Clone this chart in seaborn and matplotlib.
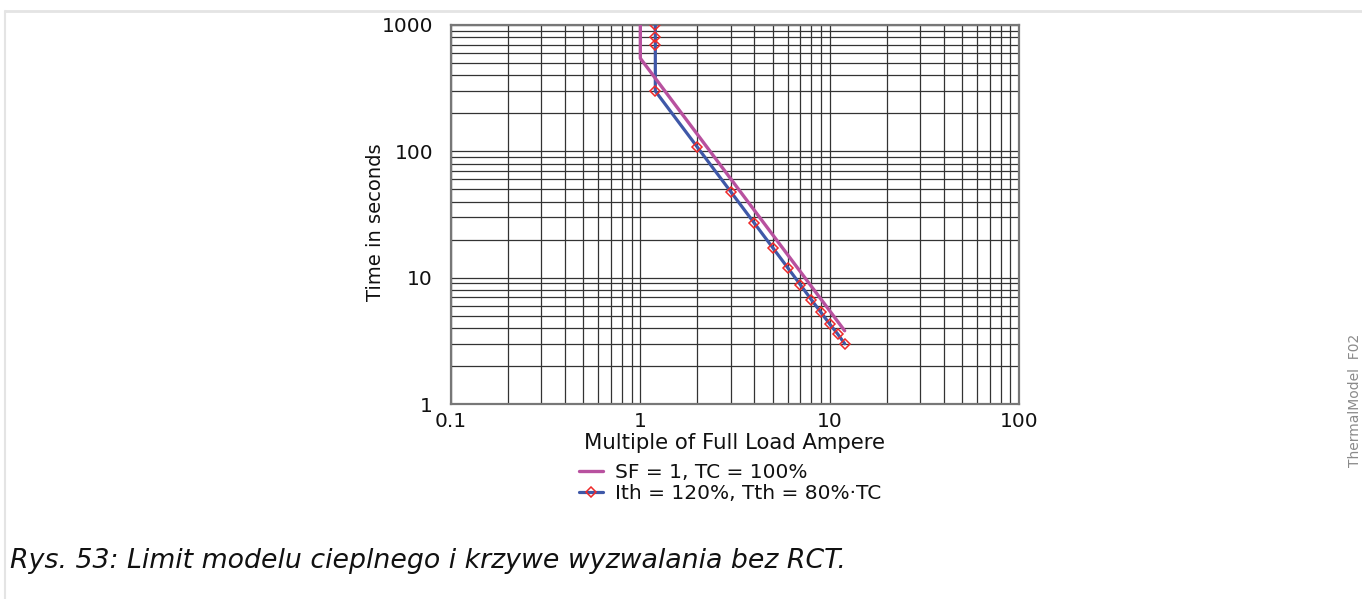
import matplotlib
matplotlib.use("Agg")
import matplotlib.pyplot as plt
import matplotlib.lines as mlines
from matplotlib.ticker import FixedLocator, FixedFormatter, NullFormatter
import pandas as pd
import seaborn as sns

# Trip characteristic data (current as multiple of FLA, time in seconds)
sf_current = [1.0, 1.0, 12.0]
sf_time = [1000, 545, 3.8]

ith_current = [1.2, 1.2, 1.2, 1.2, 2, 3, 4, 5, 6, 7, 8, 9, 10, 11, 12]
ith_time = [1000, 800, 700, 300, 108, 48, 27, 17.3, 12, 8.8, 6.7, 5.3, 4.3, 3.6, 3.0]

series_labels = ["SF = 1, TC = 100%", "Ith = 120%, Tth = 80%·TC"]

x_ticks = [0.1, 1, 10, 100]
x_tick_labels = ["0.1", "1", "10", "100"]
y_ticks = [1, 10, 100, 1000]
y_tick_labels = ["1", "10", "100", "1000"]

x_title = "Multiple of Full Load Ampere"
y_title = "Time in seconds"
caption = "Rys. 53: Limit modelu cieplnego i krzywe wyzwalania bez RCT."
side_tag = "ThermalModel  F02"

PINK = "#b8519f"
BLUE = "#3f58a8"
RED = "#ee2a2a"
TEXT = "#111111"

sns.set_theme(style="white")
plt.rcParams["font.family"] = ["DejaVu Sans"]
plt.rcParams["text.color"] = TEXT

W, H = 1362, 599
fig = plt.figure(figsize=(W / 100, H / 100), dpi=100)
fig.patch.set_facecolor("white")

# page frame lines
fig.add_artist(mlines.Line2D([5 / W, 1], [1 - 11 / H, 1 - 11 / H], color="#e4e4e4", lw=2))
fig.add_artist(mlines.Line2D([5 / W, 5 / W], [0, 1 - 11 / H], color="#e4e4e4", lw=1.5))

ax = fig.add_axes([451 / W, 1 - 404 / H, (1019 - 451) / W, (404 - 25) / H])
ax.set_facecolor("white")

df_sf = pd.DataFrame({"I": sf_current, "t": sf_time})
df_ith = pd.DataFrame({"I": ith_current, "t": ith_time})

sns.lineplot(data=df_ith, x="I", y="t", sort=False, estimator=None, ax=ax,
             color=BLUE, lw=2.3, marker="D", markersize=5.5,
             markerfacecolor="none", markeredgecolor=RED, markeredgewidth=1.1,
             label=series_labels[1], zorder=3)
sns.lineplot(data=df_sf, x="I", y="t", sort=False, estimator=None, ax=ax,
             color=PINK, lw=2.4, label=series_labels[0], zorder=4)

ax.set_xscale("log")
ax.set_yscale("log")
ax.set_xlim(0.1, 100)
ax.set_ylim(1, 1000)

minor_x = [m * d for d in (0.1, 1, 10) for m in range(2, 10)]
minor_y = [m * d for d in (1, 10, 100) for m in range(2, 10)]
ax.xaxis.set_major_locator(FixedLocator(x_ticks))
ax.xaxis.set_major_formatter(FixedFormatter(x_tick_labels))
ax.xaxis.set_minor_locator(FixedLocator(minor_x))
ax.xaxis.set_minor_formatter(NullFormatter())
ax.yaxis.set_major_locator(FixedLocator(y_ticks))
ax.yaxis.set_major_formatter(FixedFormatter(y_tick_labels))
ax.yaxis.set_minor_locator(FixedLocator(minor_y))
ax.yaxis.set_minor_formatter(NullFormatter())

ax.grid(which="both", color="#333333", lw=0.9)
ax.set_axisbelow(True)
for s in ax.spines.values():
    s.set_color("#777777")
    s.set_linewidth(1.6)

ax.tick_params(which="major", length=4, width=1, color="#666666", direction="out",
               labelcolor=TEXT)
ax.tick_params(axis="y", which="major", labelsize=14.5, pad=9)
ax.tick_params(axis="x", which="major", labelsize=14.5, pad=2)
ax.tick_params(which="minor", length=0)

ax.set_xlabel(x_title, fontsize=15.3, color=TEXT, labelpad=1)
ax.set_ylabel(y_title, fontsize=14, color=TEXT)
ax.yaxis.set_label_coords((385 - 451) / (1019 - 451), (404 - 222) / (404 - 25))

handles, labels = ax.get_legend_handles_labels()
order = [labels.index(series_labels[0]), labels.index(series_labels[1])]
ax.get_legend().remove()
fig.legend([handles[i] for i in order], [labels[i] for i in order],
           loc="upper left", bbox_to_anchor=(579 / W, 1 - 463 / H),
           frameon=False, fontsize=14.5, handlelength=1.2, handletextpad=0.6,
           labelspacing=0.09, borderpad=0, borderaxespad=0, numpoints=1,
           labelcolor=TEXT)

fig.text(10 / W, 1 - 561 / H, caption, fontsize=19.3, style="italic",
         color=TEXT, va="center", ha="left")
fig.text(1355 / W, 1 - 400 / H, side_tag, fontsize=10, color="#8a8a8a",
         rotation=90, va="center", ha="center")

fig.savefig("out.png", dpi=100, facecolor="white")
